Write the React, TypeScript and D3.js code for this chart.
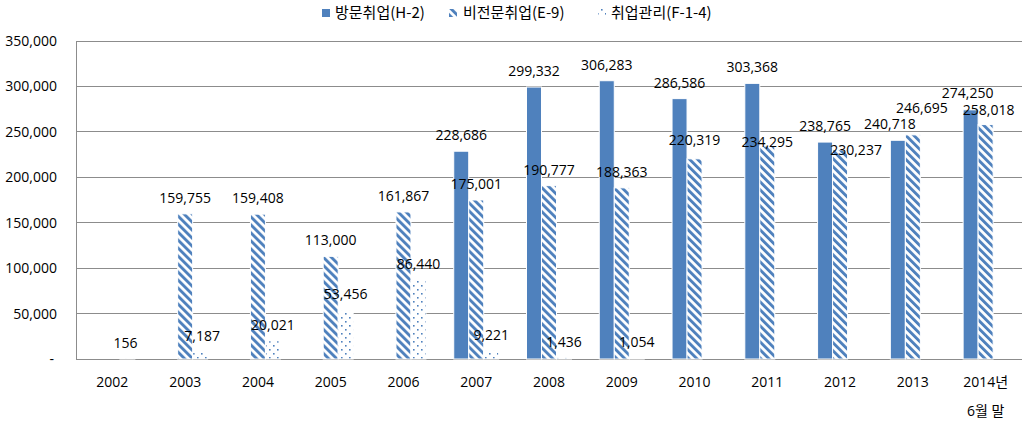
import React from 'react';
import * as d3 from 'd3';

const categories = ['2002', '2003', '2004', '2005', '2006', '2007', '2008', '2009', '2010', '2011', '2012', '2013', '2014년\n6월 말'];
const seriesNames = ['방문취업(H-2)', '비전문취업(E-9)', '취업관리(F-1-4)'];
const h2Values: (number | null)[] = [null, null, null, null, null, 228686, 299332, 306283, 286586, 303368, 238765, 240718, 274250];
const e9Values: (number | null)[] = [null, 159755, 159408, 113000, 161867, 175001, 190777, 188363, 220319, 234295, 230237, 246695, 258018];
const f14Values: (number | null)[] = [156, 7187, 20021, 53456, 86440, 9221, 1436, 1054, null, null, null, null, null];
const yTicks = [0, 50000, 100000, 150000, 200000, 250000, 300000, 350000];

// label nudges (layout only) keyed by series index - category index
const labelNudge: Record<string, [number, number]> = {
  '0-11': [-8, 0],
  '0-12': [-3, -1],
  '1-8': [0, -3],
  '1-9': [0, 12],
  '1-10': [16, 16],
  '1-11': [9, -11],
  '1-12': [3, 1],
  '2-0': [-2, 0],
  '2-1': [2, 0],
};

const BLUE = '#4F81BD';
const FONT = '"Open Sans", "Noto Sans CJK KR", sans-serif';

export default function App() {
  const W = 1024, H = 426;
  const left = 76, right = 1022, top = 41, bottom = 359;
  const x = d3.scaleBand<string>().domain(categories).range([left, right]).padding(0);
  const bw = x.bandwidth();
  const barW = 15;
  const xSub = d3.scaleBand<string>().domain(['0', '1', '2']).range([0, bw]).paddingOuter((bw / barW - 3) / 2).paddingInner(0);
  const y = d3.scaleLinear().domain([0, 350000]).range([bottom, top]);
  const fmt = d3.format(',');
  const all = [h2Values, e9Values, f14Values];
  const fills = [BLUE, 'url(#diag)', 'url(#dots)'];

  const bars: React.ReactNode[] = [];
  const labels: React.ReactNode[] = [];
  all.forEach((vals, s) => {
    vals.forEach((v, i) => {
      if (v == null) return;
      const bx = (x(categories[i]) as number) + (xSub(String(s)) as number);
      const by = y(v);
      bars.push(
        <rect key={`b${s}-${i}`} x={bx} y={by} width={xSub.bandwidth()} height={bottom - by}
          fill={fills[s]} stroke="#fff" strokeWidth={1} />
      );
      const n = labelNudge[`${s}-${i}`] || [0, 0];
      labels.push(
        <text key={`l${s}-${i}`} x={bx + xSub.bandwidth() / 2 + n[0]} y={by - 16 + n[1] + 5}
          textAnchor="middle" fontSize={14} fill="#000">{fmt(v)}</text>
      );
    });
  });

  return (
    <svg width={W} height={H} style={{ position: 'absolute', left: 0, top: 0, background: '#fff' }} fontFamily={FONT}>
      <defs>
        <pattern id="diag" patternUnits="userSpaceOnUse" width="5.66" height="5.66" patternTransform="rotate(-45)">
          <rect width="5.66" height="5.66" fill="#fff" />
          <rect width="2.9" height="5.66" fill={BLUE} />
        </pattern>
        <pattern id="dots" patternUnits="userSpaceOnUse" width="8" height="8">
          <rect width="8" height="8" fill="#fff" />
          <rect x="1" y="1" width="1.6" height="1.6" fill={BLUE} />
          <rect x="5" y="5" width="1.6" height="1.6" fill={BLUE} />
        </pattern>
      </defs>
      <rect width={W} height={H} fill="#fff" />
      {yTicks.map(t => (
        <line key={`g${t}`} x1={left} x2={right} y1={y(t)} y2={y(t)} stroke="#8c8c8c" strokeWidth={1} shapeRendering="crispEdges" />
      ))}
      <line x1={left} x2={left} y1={top} y2={bottom} stroke="#8c8c8c" strokeWidth={1} shapeRendering="crispEdges" />
      {yTicks.map(t => (
        <text key={`yt${t}`} x={t === 0 ? 54 : 57} y={y(t) + 5} textAnchor="end" fontSize={14} fill="#000">
          {t === 0 ? '-' : fmt(t)}
        </text>
      ))}
      {bars}
      {labels}
      {categories.map(c => {
        const lines = c.split('\n');
        const cx = (x(c) as number) + bw / 2;
        return (
          <text key={`x${c}`} x={cx} textAnchor="middle" fontSize={14} fill="#000">
            {lines.map((ln, k) => (
              <tspan key={k} x={cx} y={k === 0 ? 387 : 416}>{ln}</tspan>
            ))}
          </text>
        );
      })}
      <g>
        <rect x={322} y={9} width={8} height={8} fill={BLUE} />
        <text x={335} y={18} fontSize={15} fill="#000" fontFamily='"Noto Sans CJK KR", sans-serif'>{seriesNames[0]}</text>
        <rect x={449} y={9} width={8} height={8} fill="url(#diag)" />
        <text x={463} y={18} fontSize={15} fill="#000" fontFamily='"Noto Sans CJK KR", sans-serif'>{seriesNames[1]}</text>
        <rect x={598} y={9} width={8} height={8} fill="url(#dots)" />
        <text x={611} y={18} fontSize={15} fill="#000" fontFamily='"Noto Sans CJK KR", sans-serif'>{seriesNames[2]}</text>
      </g>
    </svg>
  );
}
